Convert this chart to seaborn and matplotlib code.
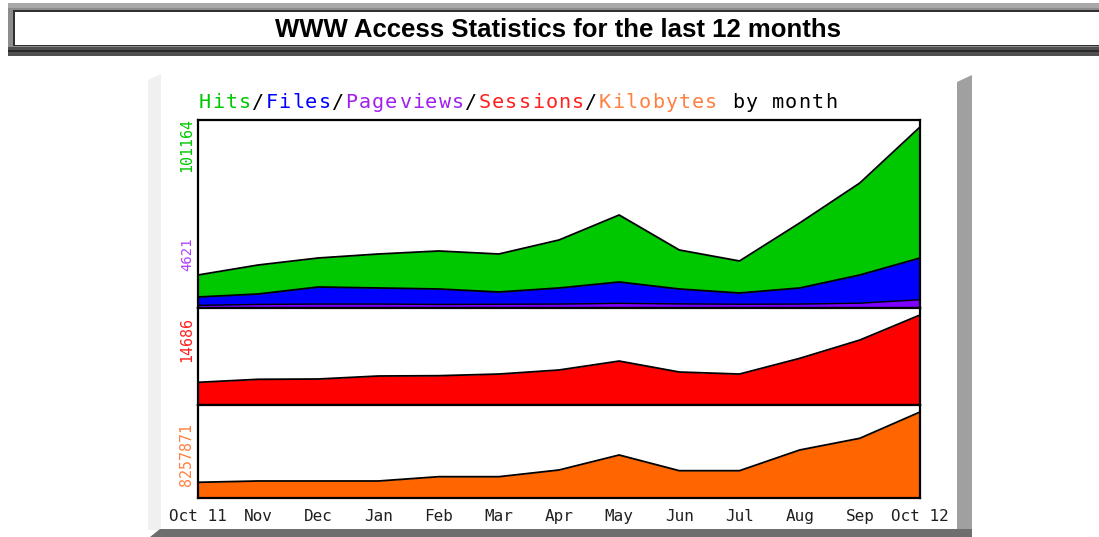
import matplotlib
matplotlib.use("Agg")
import matplotlib.pyplot as plt
import seaborn as sns
import numpy as np
import pandas as pd
from matplotlib.patches import Rectangle, Polygon

# ---- data ----
months = ["Oct 11", "Nov", "Dec", "Jan", "Feb", "Mar", "Apr", "May", "Jun", "Jul", "Aug", "Sep", "Oct 12"]
hits = [18450, 24030, 27950, 30180, 31860, 30180, 38010, 51980, 32420, 26270, 47510, 69870, 101164]
files = [6150, 7830, 11740, 11180, 10620, 8940, 11180, 14530, 10620, 8390, 11180, 18450, 27950]
pageviews = [1500, 2000, 2200, 2200, 2000, 2100, 2200, 2600, 2300, 2100, 2200, 2700, 4621]
sessions = [3700, 4190, 4240, 4730, 4780, 5050, 5710, 7170, 5380, 5050, 7610, 10600, 14686]
kilobytes = [1507500, 1632400, 1632400, 1632400, 2045300, 2045300, 2688600, 4128900,
             2621400, 2621400, 4609100, 5732500, 8257871]
max_labels = ["101164", "4621", "14686", "8257871"]

sns.set_theme(style="white")
plt.rcParams["font.family"] = ["DejaVu Sans"]

W, H = 1099, 537
fig = plt.figure(figsize=(W / 100, H / 100), dpi=100)
fig.patch.set_facecolor("white")

def fx(x):
    return x / W

def fy(y):
    return 1 - y / H

def rect(x0, y0, x1, y1, color, z=0):
    fig.patches.append(Rectangle((fx(x0), fy(y1)), fx(x1) - fx(x0), fy(y0) - fy(y1),
                                 transform=fig.transFigure, facecolor=color,
                                 edgecolor="none", zorder=z))

# ---- title box ----
rect(8, 3, 1099, 56, "#8c8c8c")
rect(8, 3, 1099, 8, "#a8a8a8")
rect(8, 47, 1099, 56, "#505050")
rect(8, 50, 1099, 52, "#2a2a2a")
rect(13, 10, 1099, 46, "#303030")
rect(15, 12, 1099, 45, "white")
fig.text(fx(558), fy(30), "WWW Access Statistics for the last 12 months",
         ha="center", va="center", fontsize=18.5, fontweight="bold",
         family=["Liberation Sans", "DejaVu Sans"], color="black")

# ---- chart container frame ----
rect(148, 80, 161, 530, "#f0f0f0")
fig.patches.append(Polygon([(fx(148), fy(80)), (fx(161), fy(74)), (fx(161), fy(80))],
                           closed=True, transform=fig.transFigure,
                           facecolor="#f0f0f0", edgecolor="none"))
rect(957, 82, 972, 537, "#a0a0a0")
fig.patches.append(Polygon([(fx(957), fy(82)), (fx(972), fy(75)), (fx(972), fy(82))],
                           closed=True, transform=fig.transFigure,
                           facecolor="#a0a0a0", edgecolor="none"))
fig.patches.append(Polygon([(fx(150), fy(537)), (fx(160), fy(529)), (fx(972), fy(529)),
                            (fx(972), fy(537))],
                           closed=True, transform=fig.transFigure,
                           facecolor="#6e6e6e", edgecolor="none"))

# ---- panels ----
x0, x1 = 198, 920
panels = [(120, 308), (308, 405), (405, 498)]
xs = np.arange(len(months))

df = pd.DataFrame({"idx": xs, "month": months, "hits": hits, "files": files,
                   "pageviews": pageviews, "sessions": sessions, "kilobytes": kilobytes})

axes = []
for (ya, yb) in panels:
    ax = fig.add_axes([fx(x0), fy(yb), fx(x1) - fx(x0), fy(ya) - fy(yb)])
    ax.set_xlim(0, len(months) - 1)
    ax.set_facecolor("white")
    for s in ax.spines.values():
        s.set_color("black")
        s.set_linewidth(1.6)
        s.set_zorder(5)
    axes.append(ax)

def area(ax, col, color, lw=1.3):
    ax.fill_between(df["idx"], 0, df[col], color=color, linewidth=0, zorder=1)
    sns.lineplot(data=df, x="idx", y=col, ax=ax, color="black", linewidth=lw,
                 zorder=3, legend=False)
    ax.set_xlabel("")
    ax.set_ylabel("")

area(axes[0], "hits", "#00c800")
area(axes[0], "files", "#0000ff")
area(axes[0], "pageviews", "#8000ff", lw=1.0)
axes[0].set_ylim(0, max(hits) * 188 / 181)

area(axes[1], "sessions", "#ff0000")
axes[1].set_ylim(0, max(sessions) * 97 / 90)

area(axes[2], "kilobytes", "#ff6600")
axes[2].set_ylim(0, max(kilobytes) * 93 / 86)

for ax in axes:
    ax.set_xlim(0, len(months) - 1)
    ax.set_xticks([])
    ax.set_yticks([])

mono = "DejaVu Sans Mono"

# x tick labels under bottom panel
bx = axes[2]
bx.set_xticks(xs)
bx.set_xticklabels(months, family=mono, fontsize=11.5, color="#202020")
bx.tick_params(axis="x", length=0, pad=16.5)
for lab in bx.get_xticklabels():
    lab.set_verticalalignment("baseline")

# ---- heading (wide pixel-style monospace, placed char by char) ----
parts = [("Hits", "#00c800"), ("/", "black"), ("Files", "#0000ff"), ("/", "black"),
         ("Pageviews", "#a020f0"), ("/", "black"), ("Sessions", "#ff2020"), ("/", "black"),
         ("Kilobytes", "#ff8040"), (" by month", "black")]
char_w = 13.33
cx = 198 + char_w / 2
for txt, col in parts:
    for ch in txt:
        if ch != " ":
            fig.text(fx(cx), fy(103), ch, ha="center", va="center", fontsize=14.5,
                     family=mono, color=col)
        cx += char_w

# ---- y max labels ----
label_pos = [(145, "#00c800", 10.8), (254, "#b040ff", 10.0), (340, "#ff2020", 10.8),
             (455, "#ff8040", 10.8)]
for (yy, col, fs), lab in zip(label_pos, max_labels):
    fig.text(fx(187), fy(yy), lab, rotation=90, ha="center", va="center",
             fontsize=fs, family=mono, color=col)

fig.savefig("out.png", dpi=100, facecolor="white")
